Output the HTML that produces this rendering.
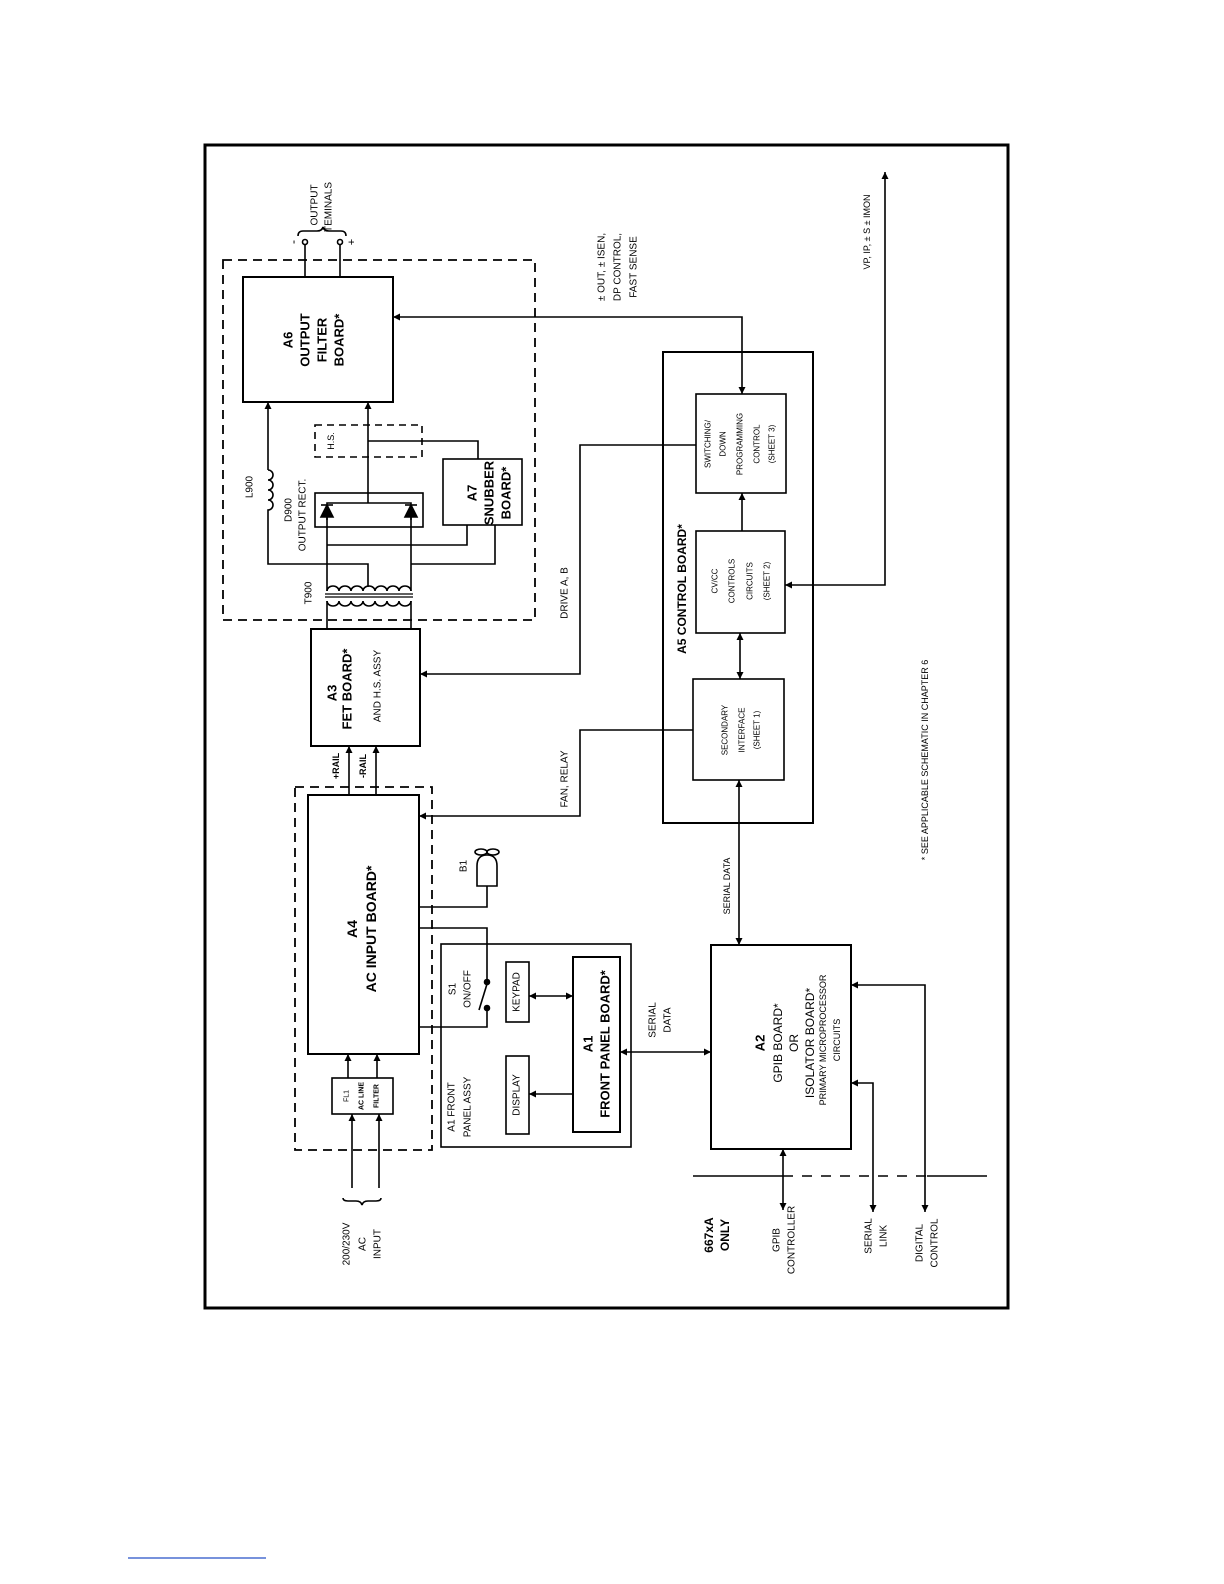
<!DOCTYPE html>
<html><head><meta charset="utf-8"><style>
html,body{margin:0;padding:0;background:#fff;}
svg{display:block;}
text{font-family:"Liberation Sans Narrow","Liberation Sans",sans-serif;fill:#000;text-anchor:middle;dominant-baseline:central;}
.b{font-weight:bold;}
</style></head><body>
<svg width="1224" height="1584" viewBox="0 0 1224 1584" xmlns="http://www.w3.org/2000/svg">
<defs>
<marker id="a" viewBox="0 0 10 10" refX="10" refY="5" markerWidth="7" markerHeight="7" orient="auto-start-reverse" markerUnits="userSpaceOnUse"><path d="M0,0 L10,5 L0,10 z" fill="#000"/></marker>
</defs>
<g fill="none" stroke="#000" stroke-width="1.6">
<!-- frame -->
<rect x="205" y="145" width="803" height="1163" stroke-width="3"/>
<!-- big dashed -->
<rect x="223" y="260" width="312" height="360" stroke-dasharray="9,6" stroke-width="1.8"/>
<!-- A6 -->
<rect x="243" y="277" width="150" height="125" stroke-width="2"/>
<line x1="305" y1="243" x2="305" y2="277"/><line x1="340" y1="243" x2="340" y2="277"/>
<circle cx="305" cy="242" r="2.5" fill="#fff"/><circle cx="340" cy="242" r="2.5" fill="#fff"/>
<path d="M298,236 q0,-5 5,-5 h14 q5,0 6,-4 q1,4 6,4 h12 q5,0 5,5"/>
<!-- H.S. dashed -->
<rect x="315" y="425" width="107" height="32" stroke-dasharray="7,5"/>
<!-- center line -->
<line x1="368" y1="503" x2="368" y2="402" marker-end="url(#a)"/>
<polyline points="368,441 478,441 478,459"/>
<!-- A7 -->
<rect x="443" y="459" width="79" height="66"/>
<!-- D900 -->
<rect x="315" y="493" width="108" height="34"/>
<polyline points="327,520 327,503 411,503 411,520"/>
<path d="M321,517 L333,517 L327,505 z M405,517 L417,517 L411,505 z" fill="#000"/>
<line x1="321" y1="505" x2="333" y2="505"/><line x1="405" y1="505" x2="417" y2="505"/>
<line x1="327" y1="517" x2="327" y2="587"/><line x1="411" y1="517" x2="411" y2="587"/>
<polyline points="327,545 467,545 467,525"/>
<polyline points="411,564 495,564 495,525"/>
<!-- L900 -->
<line x1="268" y1="470" x2="268" y2="402" marker-end="url(#a)"/>
<path d="M268,470 a5,5 0 0 1 0,10 a5,5 0 0 1 0,10 a5,5 0 0 1 0,10 a5,5 0 0 1 0,10 L268,564 L368,564 L368,587"/>
<!-- transformer -->
<path d="M327,591 a6,5 0 0 1 12,0 a6,5 0 0 1 12,0 a6,5 0 0 1 12,0 a6,5 0 0 1 12,0 a6,5 0 0 1 12,0 a6,5 0 0 1 12,0 a6,5 0 0 1 12,0"/>
<line x1="327" y1="587" x2="327" y2="591"/><line x1="411" y1="587" x2="411" y2="591"/>
<line x1="325" y1="594" x2="413" y2="594" stroke-width="1.2"/><line x1="325" y1="597" x2="413" y2="597" stroke-width="1.2"/>
<path d="M327,601 a6,5 0 0 0 12,0 a6,5 0 0 0 12,0 a6,5 0 0 0 12,0 a6,5 0 0 0 12,0 a6,5 0 0 0 12,0 a6,5 0 0 0 12,0 a6,5 0 0 0 12,0"/>
<line x1="327" y1="601" x2="327" y2="629"/><line x1="411" y1="601" x2="411" y2="629"/>
<!-- A3 -->
<rect x="311" y="629" width="109" height="117" stroke-width="2"/>
<!-- drive -->
<polyline points="696,445 580,445 580,674 420,674" marker-end="url(#a)"/>
<!-- rails -->
<line x1="349" y1="795" x2="349" y2="746" marker-end="url(#a)"/>
<line x1="376" y1="795" x2="376" y2="746" marker-end="url(#a)"/>
<!-- A4 -->
<rect x="295" y="787" width="137" height="363" stroke-dasharray="9,6" stroke-width="1.8"/>
<rect x="308" y="795" width="111" height="259" stroke-width="2"/>
<polyline points="693,730 580,730 580,816 419,816" marker-end="url(#a)"/>
<!-- fan -->
<polyline points="419,907 487,907 487,886"/>
<path d="M477,886 L497,886 L497,866 Q497,855 487,855 Q477,855 477,866 z"/>
<ellipse cx="481" cy="852" rx="6" ry="3"/><ellipse cx="493" cy="852" rx="6" ry="3"/>
<!-- switch -->
<polyline points="419,928 487,928 487,980"/>
<circle cx="487" cy="982" r="2.5" fill="#000"/>
<line x1="487" y1="984" x2="479" y2="1010"/>
<circle cx="487" cy="1008" r="2.5" fill="#000"/>
<polyline points="487,1010 487,1027 419,1027"/>
<!-- FL1 -->
<rect x="332" y="1078" width="61" height="36"/>
<line x1="348" y1="1078" x2="348" y2="1054" marker-end="url(#a)"/>
<line x1="377" y1="1078" x2="377" y2="1054" marker-end="url(#a)"/>
<line x1="352" y1="1188" x2="352" y2="1114" marker-end="url(#a)"/>
<line x1="379" y1="1188" x2="379" y2="1114" marker-end="url(#a)"/>
<path d="M343,1198 q0,3 5,3 h8 q5,0 6,4 q1,-4 6,-4 h8 q5,0 5,-3"/>
<!-- A1 assy -->
<rect x="441" y="944" width="190" height="203"/>
<rect x="506" y="962" width="23" height="60"/>
<rect x="506" y="1056" width="23" height="78"/>
<rect x="573" y="957" width="47" height="175" stroke-width="2"/>
<line x1="529" y1="996" x2="573" y2="996" marker-start="url(#a)" marker-end="url(#a)"/>
<line x1="573" y1="1094" x2="529" y2="1094" marker-end="url(#a)"/>
<line x1="620" y1="1052" x2="711" y2="1052" marker-start="url(#a)" marker-end="url(#a)"/>
<!-- A2 -->
<rect x="711" y="945" width="140" height="204" stroke-width="2"/>
<line x1="739" y1="780" x2="739" y2="945" marker-start="url(#a)" marker-end="url(#a)"/>
<line x1="783" y1="1149" x2="783" y2="1210" marker-start="url(#a)" marker-end="url(#a)"/>
<polyline points="851,1083 873,1083 873,1212" marker-start="url(#a)" marker-end="url(#a)"/>
<polyline points="851,985 925,985 925,1212" marker-start="url(#a)" marker-end="url(#a)"/>
<line x1="693" y1="1176" x2="783" y2="1176"/>
<line x1="783" y1="1176" x2="927" y2="1176" stroke-dasharray="10,9"/>
<line x1="927" y1="1176" x2="987" y2="1176"/>
<!-- A5 -->
<rect x="663" y="352" width="150" height="471" stroke-width="2"/>
<rect x="696" y="394" width="90" height="99"/>
<rect x="696" y="531" width="89" height="102"/>
<rect x="693" y="679" width="91" height="101"/>
<polyline points="393,317 742,317 742,394" marker-start="url(#a)" marker-end="url(#a)"/>
<line x1="742" y1="531" x2="742" y2="493" marker-end="url(#a)"/>
<line x1="740" y1="633" x2="740" y2="679" marker-start="url(#a)" marker-end="url(#a)"/>
<polyline points="785,585 885,585 885,172" marker-start="url(#a)" marker-end="url(#a)"/>
</g>
<line x1="128" y1="1558" x2="266" y2="1558" stroke="#4a6fd0" stroke-width="1.5"/>
<g font-size="10">
<text transform="translate(315,205) rotate(-90)">OUTPUT</text>
<text transform="translate(329,207) rotate(-90)">TEMINALS</text>
<text transform="translate(293,242) rotate(-90)" font-size="12">-</text>
<text transform="translate(352,242) rotate(-90)" font-size="11">+</text>
<text class="b" font-size="13" transform="translate(288,340) rotate(-90)">A6</text>
<text class="b" font-size="13" transform="translate(305,340) rotate(-90)">OUTPUT</text>
<text class="b" font-size="13" transform="translate(322,340) rotate(-90)">FILTER</text>
<text class="b" font-size="13" transform="translate(339,340) rotate(-90)">BOARD*</text>
<text transform="translate(602,267) rotate(-90)">± OUT, ± ISEN,</text>
<text transform="translate(618,267) rotate(-90)">DP CONTROL,</text>
<text transform="translate(634,267) rotate(-90)">FAST SENSE</text>
<text transform="translate(331,441) rotate(-90)" font-size="9">H.S.</text>
<text transform="translate(250,487) rotate(-90)">L900</text>
<text transform="translate(289,510) rotate(-90)">D900</text>
<text transform="translate(303,515) rotate(-90)">OUTPUT RECT.</text>
<text transform="translate(309,593) rotate(-90)">T900</text>
<text class="b" font-size="13" transform="translate(472,493) rotate(-90)">A7</text>
<text class="b" font-size="13" transform="translate(489,493) rotate(-90)">SNUBBER</text>
<text class="b" font-size="13" transform="translate(506,493) rotate(-90)">BOARD*</text>
<text transform="translate(565,593) rotate(-90)">DRIVE A, B</text>
<text class="b" font-size="13" transform="translate(332,693) rotate(-90)">A3</text>
<text class="b" font-size="13" transform="translate(347,689) rotate(-90)">FET BOARD*</text>
<text transform="translate(378,686) rotate(-90)">AND H.S. ASSY</text>
<text class="b" font-size="9" transform="translate(336,766) rotate(-90)">+RAIL</text>
<text class="b" font-size="9" transform="translate(363,766) rotate(-90)">-RAIL</text>
<text transform="translate(565,779) rotate(-90)">FAN, RELAY</text>
<text class="b" font-size="14" transform="translate(352,929) rotate(-90)">A4</text>
<text class="b" font-size="14" transform="translate(371,929) rotate(-90)">AC INPUT BOARD*</text>
<text transform="translate(464,866) rotate(-90)">B1</text>
<text transform="translate(453,989) rotate(-90)">S1</text>
<text transform="translate(468,989) rotate(-90)">ON/OFF</text>
<text transform="translate(517,992) rotate(-90)">KEYPAD</text>
<text transform="translate(517,1095) rotate(-90)">DISPLAY</text>
<text class="b" font-size="13" transform="translate(588,1044) rotate(-90)">A1</text>
<text class="b" font-size="13" transform="translate(605,1044) rotate(-90)">FRONT PANEL BOARD*</text>
<text transform="translate(452,1107) rotate(-90)">A1 FRONT</text>
<text transform="translate(468,1107) rotate(-90)">PANEL ASSY</text>
<text font-size="7" transform="translate(347,1096) rotate(-90)">FL1</text>
<text font-size="7" class="b" transform="translate(362,1096) rotate(-90)">AC LINE</text>
<text font-size="7" class="b" transform="translate(377,1096) rotate(-90)">FILTER</text>
<text transform="translate(347,1244) rotate(-90)">200/230V</text>
<text transform="translate(363,1244) rotate(-90)">AC</text>
<text transform="translate(378,1244) rotate(-90)">INPUT</text>
<text transform="translate(653,1020) rotate(-90)">SERIAL</text>
<text transform="translate(668,1020) rotate(-90)">DATA</text>
<text class="b" font-size="13" transform="translate(760,1043) rotate(-90)">A2</text>
<text font-size="12" transform="translate(778,1043) rotate(-90)">GPIB  BOARD*</text>
<text font-size="12" transform="translate(794,1043) rotate(-90)">OR</text>
<text font-size="12" transform="translate(810,1043) rotate(-90)">ISOLATOR BOARD*</text>
<text font-size="9" transform="translate(823,1040) rotate(-90)">PRIMARY MICROPROCESSOR</text>
<text font-size="9" transform="translate(837,1040) rotate(-90)">CIRCUITS</text>
<text transform="translate(727,886) rotate(-90)" font-size="9">SERIAL DATA</text>
<text class="b" font-size="12" transform="translate(709,1235) rotate(-90)">667xA</text>
<text class="b" font-size="12" transform="translate(725,1235) rotate(-90)">ONLY</text>
<text transform="translate(777,1240) rotate(-90)">GPIB</text>
<text transform="translate(792,1240) rotate(-90)">CONTROLLER</text>
<text transform="translate(869,1236) rotate(-90)">SERIAL</text>
<text transform="translate(884,1236) rotate(-90)">LINK</text>
<text transform="translate(920,1243) rotate(-90)">DIGITAL</text>
<text transform="translate(935,1243) rotate(-90)">CONTROL</text>
<text class="b" font-size="12" transform="translate(682,589) rotate(-90)">A5 CONTROL BOARD*</text>
<text font-size="8" transform="translate(708,444) rotate(-90)">SWITCHING/</text>
<text font-size="8" transform="translate(723,444) rotate(-90)">DOWN</text>
<text font-size="8" transform="translate(740,444) rotate(-90)">PROGRAMMING</text>
<text font-size="8" transform="translate(757,444) rotate(-90)">CONTROL</text>
<text font-size="8" transform="translate(772,444) rotate(-90)">(SHEET 3)</text>
<text font-size="8" transform="translate(715,581) rotate(-90)">CV/CC</text>
<text font-size="8" transform="translate(732,581) rotate(-90)">CONTROLS</text>
<text font-size="8" transform="translate(750,581) rotate(-90)">CIRCUITS</text>
<text font-size="8" transform="translate(767,581) rotate(-90)">(SHEET 2)</text>
<text font-size="8" transform="translate(725,730) rotate(-90)">SECONDARY</text>
<text font-size="8" transform="translate(742,730) rotate(-90)">INTERFACE</text>
<text font-size="8" transform="translate(757,730) rotate(-90)">(SHEET 1)</text>
<text font-size="9" transform="translate(867,232) rotate(-90)">VP, IP, ± S ± IMON</text>
<text font-size="9" transform="translate(925,760) rotate(-90)">* SEE APPLICABLE SCHEMATIC IN CHAPTER 6</text>
</g>
</svg>
</body></html>
